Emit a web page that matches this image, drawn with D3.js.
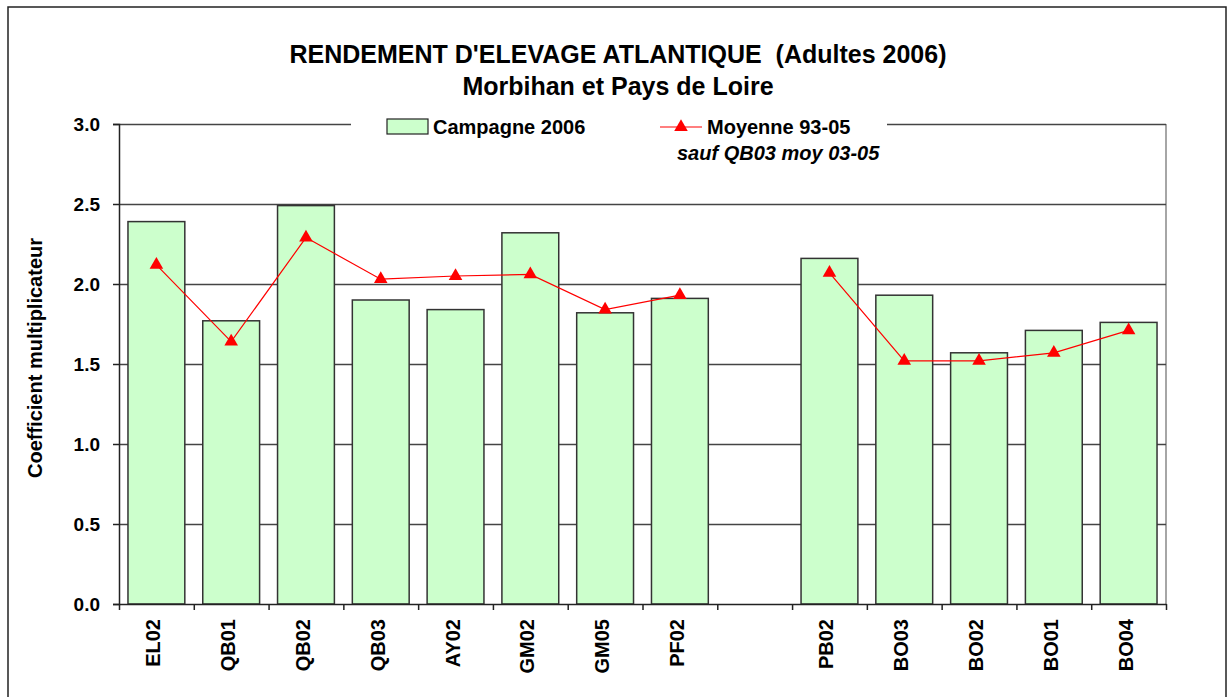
<!DOCTYPE html>
<html>
<head>
<meta charset="utf-8">
<script src="https://cdn.jsdelivr.net/npm/d3@7"></script>
<style>
  html, body { margin: 0; padding: 0; background: #fff; overflow: hidden; }
  svg { display: block; }
  svg text { font-family: "Liberation Sans", Arial, sans-serif; font-weight: bold; fill: #000; }
</style>
</head>
<body>
<div id="chart"></div>
<script>
// Chart data
const categories = ['EL02', 'QB01', 'QB02', 'QB03', 'AY02', 'GM02', 'GM05', 'PF02', '', 'PB02', 'BO03', 'BO02', 'BO01', 'BO04'];
const campagne2006 = [2.39, 1.77, 2.49, 1.90, 1.84, 2.32, 1.82, 1.91, null, 2.16, 1.93, 1.57, 1.71, 1.76];
const moyenne9305 = [2.12, 1.64, 2.29, 2.03, 2.05, 2.06, 1.84, 1.93, null, 2.07, 1.52, 1.52, 1.57, 1.71];
const yTicks = [0, 0.5, 1.0, 1.5, 2.0, 2.5, 3.0];

const width = 1227, height = 697;
const margin = {top: 124, right: 61, bottom: 93, left: 119};
const innerWidth = width - margin.left - margin.right;
const innerHeight = height - margin.top - margin.bottom;

const svg = d3.select('#chart')
    .append('svg')
    .attr('width', width)
    .attr('height', height);

// outer frame (bottom edge falls below the visible area)
svg.append('rect')
    .attr('x', 8).attr('y', 7)
    .attr('width', 1218).attr('height', 700)
    .attr('fill', 'none')
    .attr('stroke', '#222')
    .attr('stroke-width', 1.5);

// titles
svg.append('text')
    .attr('x', 618).attr('y', 63)
    .attr('text-anchor', 'middle')
    .style('font-size', '25px')
    .attr('xml:space', 'preserve')
    .text("RENDEMENT D'ELEVAGE ATLANTIQUE  (Adultes 2006)");

svg.append('text')
    .attr('x', 618).attr('y', 95)
    .attr('text-anchor', 'middle')
    .style('font-size', '25px')
    .text('Morbihan et Pays de Loire');

const g = svg.append('g')
    .attr('transform', `translate(${margin.left}, ${margin.top})`);

const idx = categories.map((d, i) => i);

const x = d3.scaleBand()
    .domain(idx)
    .range([0, innerWidth])
    .paddingInner(0.24)
    .paddingOuter(0.12);

const xEdge = d3.scaleLinear()
    .domain([0, categories.length])
    .range([0, innerWidth]);

const y = d3.scaleLinear()
    .domain([0, 3])
    .range([innerHeight, 0]);

// right plot edge
g.append('line')
    .attr('x1', innerWidth).attr('x2', innerWidth)
    .attr('y1', 0).attr('y2', innerHeight)
    .attr('stroke', '#888')
    .attr('stroke-width', 1.5);

// gridlines
g.append('g')
    .attr('class', 'grid')
    .call(d3.axisLeft(y).tickValues(yTicks.filter(d => d > 0)).tickSize(-innerWidth).tickFormat(''))
    .call(s => s.select('.domain').remove())
    .selectAll('line')
    .attr('stroke', '#444')
    .attr('stroke-width', 1.5);

// bars
g.selectAll('.bar')
    .data(campagne2006.map((v, i) => ({i, v})).filter(d => d.v !== null))
    .enter()
    .append('rect')
    .attr('class', 'bar')
    .attr('x', d => x(d.i))
    .attr('width', x.bandwidth())
    .attr('y', d => y(d.v))
    .attr('height', d => innerHeight - y(d.v))
    .attr('fill', '#ccffcc')
    .attr('stroke', '#333')
    .attr('stroke-width', 1.5);

// y axis
const yAxis = g.append('g')
    .call(d3.axisLeft(y).tickValues(yTicks).tickSize(6).tickPadding(13).tickFormat(d3.format('.1f')));
yAxis.select('.domain').attr('stroke', '#222').attr('stroke-width', 1.5);
yAxis.selectAll('line').attr('stroke', '#222').attr('stroke-width', 1.5);
yAxis.selectAll('text').style('font-size', '19px').attr('dy', '0.35em');

// x axis baseline and ticks at band edges
const xAxis = g.append('g')
    .attr('transform', `translate(0, ${innerHeight})`)
    .call(d3.axisBottom(xEdge).tickValues(d3.range(categories.length + 1)).tickSize(6).tickFormat('').tickSizeOuter(0));
xAxis.select('.domain').attr('stroke', '#222').attr('stroke-width', 1.5);
xAxis.selectAll('line').attr('stroke', '#222').attr('stroke-width', 1.5);

// category labels (skip the empty gap slot)
g.selectAll('.xlabel')
    .data(idx.filter(i => categories[i] !== ''))
    .enter()
    .append('text')
    .attr('class', 'xlabel')
    .attr('transform', i => `translate(${x(i) + x.bandwidth() / 2 + 4}, ${innerHeight + 15}) rotate(-90)`)
    .attr('text-anchor', 'end')
    .style('font-size', '20px')
    .text(i => categories[i]);

// y axis title
svg.append('text')
    .attr('transform', 'translate(42, 358) rotate(-90)')
    .attr('text-anchor', 'middle')
    .style('font-size', '20px')
    .text('Coefficient multiplicateur');

// average line
const line = d3.line()
    .defined(d => d.v !== null)
    .x(d => x(d.i) + x.bandwidth() / 2)
    .y(d => y(d.v));

const lineData = moyenne9305.map((v, i) => ({i, v}));

g.append('path')
    .datum(lineData)
    .attr('d', line)
    .attr('fill', 'none')
    .attr('stroke', '#ff0000')
    .attr('stroke-width', 1.2);

const tri = d3.symbol().type(d3.symbolTriangle).size(80);
g.selectAll('.marker')
    .data(lineData.filter(d => d.v !== null))
    .enter()
    .append('path')
    .attr('class', 'marker')
    .attr('transform', d => `translate(${x(d.i) + x.bandwidth() / 2}, ${y(d.v)})`)
    .attr('d', tri)
    .attr('fill', '#ff0000');

// legend (white box hides top gridline)
const legend = svg.append('g');
legend.append('rect')
    .attr('x', 351).attr('y', 110)
    .attr('width', 536).attr('height', 56)
    .attr('fill', '#fff');

legend.append('rect')
    .attr('x', 387).attr('y', 119)
    .attr('width', 41).attr('height', 15)
    .attr('fill', '#ccffcc')
    .attr('stroke', '#222')
    .attr('stroke-width', 1.2);
legend.append('text')
    .attr('x', 433).attr('y', 134)
    .style('font-size', '20px')
    .text('Campagne 2006');

legend.append('line')
    .attr('x1', 660).attr('x2', 702)
    .attr('y1', 127).attr('y2', 127)
    .attr('stroke', '#ff0000')
    .attr('stroke-width', 1.2);
legend.append('path')
    .attr('transform', 'translate(681, 127)')
    .attr('d', tri)
    .attr('fill', '#ff0000');
legend.append('text')
    .attr('x', 707).attr('y', 134)
    .style('font-size', '20px')
    .text('Moyenne 93-05');
legend.append('text')
    .attr('x', 677).attr('y', 160)
    .style('font-size', '20px')
    .style('font-style', 'italic')
    .text('sauf QB03 moy 03-05');
</script>
</body>
</html>
